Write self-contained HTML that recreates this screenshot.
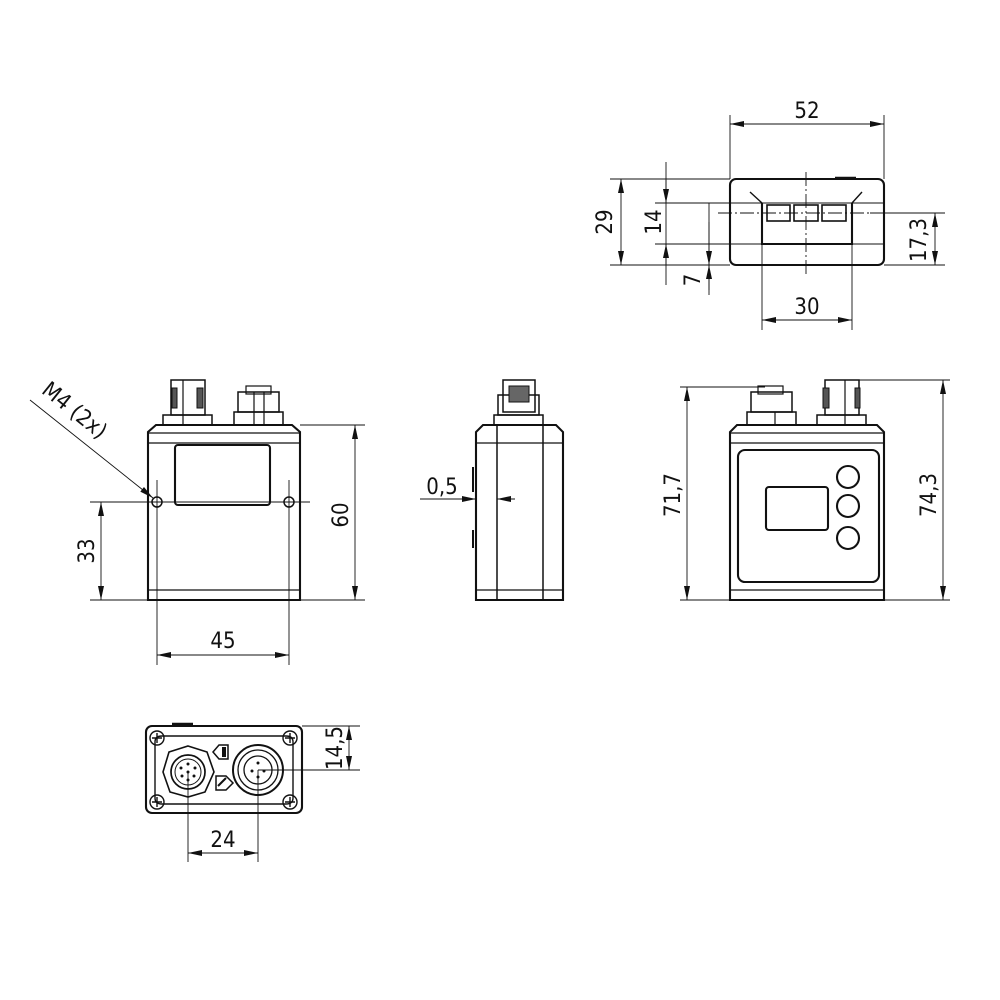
<!DOCTYPE html>
<html><head><meta charset="utf-8"><style>
html,body{margin:0;padding:0;background:#fff;}
svg{display:block}
text{font-family:"DejaVu Sans Condensed","DejaVu Sans","Liberation Sans",sans-serif;font-size:22px;fill:#111;font-weight:300}
</style></head><body>
<svg width="1000" height="1000" viewBox="0 0 1000 1000" xmlns="http://www.w3.org/2000/svg">
<defs>
<marker id="a" viewBox="0 0 14 6" refX="14" refY="3" markerWidth="14" markerHeight="6" markerUnits="userSpaceOnUse" orient="auto-start-reverse"><path d="M0,0 L14,3 L0,6 z" fill="#111"/></marker>
</defs>
<g stroke="#111" fill="none">
<!-- ===== TOP VIEW ===== -->
<g stroke-width="0.9">
<line x1="730" y1="115" x2="730" y2="179"/><line x1="884" y1="115" x2="884" y2="179"/>
<line x1="730" y1="124" x2="884" y2="124" marker-start="url(#a)" marker-end="url(#a)"/>
<line x1="610" y1="179" x2="730" y2="179"/><line x1="610" y1="265" x2="730" y2="265"/>
<line x1="621" y1="179" x2="621" y2="265" marker-start="url(#a)" marker-end="url(#a)"/>
<line x1="655" y1="203" x2="762" y2="203"/><line x1="655" y1="244" x2="762" y2="244"/>
<line x1="666" y1="162" x2="666" y2="285"/>
<line x1="666" y1="180" x2="666" y2="203" marker-end="url(#a)"/>
<line x1="666" y1="265" x2="666" y2="244" marker-end="url(#a)"/>
<line x1="709" y1="203" x2="709" y2="295"/>
<line x1="709" y1="222" x2="709" y2="265" marker-end="url(#a)"/>
<line x1="709" y1="290" x2="709" y2="265" marker-end="url(#a)"/>
<line x1="870" y1="213" x2="945" y2="213"/><line x1="884" y1="265" x2="945" y2="265"/>
<line x1="935" y1="213" x2="935" y2="265" marker-start="url(#a)" marker-end="url(#a)"/>
<line x1="762" y1="244" x2="762" y2="330"/><line x1="852" y1="244" x2="852" y2="330"/>
<line x1="762" y1="320" x2="852" y2="320" marker-start="url(#a)" marker-end="url(#a)"/>
<line x1="806" y1="172" x2="806" y2="276" stroke-dasharray="14,3,2,3"/>
<line x1="718" y1="213" x2="880" y2="213" stroke-dasharray="14,3,2,3"/>
</g>
<g stroke-width="2.1">
<rect x="730" y="179" width="154" height="86" rx="6"/>
<line x1="730" y1="203" x2="884" y2="203" stroke-width="1"/>
<line x1="730" y1="244" x2="884" y2="244" stroke-width="1"/>
<path d="M762,203 V244 H852 V203" />
<line x1="750" y1="192" x2="762" y2="203" stroke-width="1.4"/>
<line x1="862" y1="192" x2="852" y2="203" stroke-width="1.4"/>
<rect x="767" y="205" width="23" height="16" stroke-width="1.6"/>
<rect x="794" y="205" width="24" height="16" stroke-width="1.6"/>
<rect x="822" y="205" width="24" height="16" stroke-width="1.6"/>
<line x1="835" y1="178" x2="856" y2="178" stroke-width="2.5"/>
</g>
<!-- ===== FRONT VIEW ===== -->
<g stroke-width="0.9">
<line x1="300" y1="425" x2="365" y2="425"/><line x1="300" y1="600" x2="365" y2="600"/>
<line x1="355" y1="425" x2="355" y2="600" marker-start="url(#a)" marker-end="url(#a)"/>
<line x1="90" y1="600" x2="148" y2="600"/>
<line x1="101" y1="502" x2="101" y2="600" marker-start="url(#a)" marker-end="url(#a)"/>
<line x1="90" y1="502" x2="310" y2="502"/>
<line x1="157" y1="480" x2="157" y2="665"/><line x1="289" y1="480" x2="289" y2="665"/>
<line x1="157" y1="655" x2="289" y2="655" marker-start="url(#a)" marker-end="url(#a)"/>
<line x1="30" y1="400" x2="153" y2="498" marker-end="url(#a)"/>
</g>
<g stroke-width="2.1">
<path d="M148,600 V432 L156,425 H292 L300,432 V600 Z"/>
<line x1="148" y1="433" x2="300" y2="433" stroke-width="1.3"/>
<line x1="148" y1="443" x2="300" y2="443" stroke-width="1.3"/>
<line x1="148" y1="590" x2="300" y2="590" stroke-width="1.3"/>
<rect x="175" y="445" width="95" height="60" rx="3"/>
<circle cx="157" cy="502" r="5" stroke-width="1.5"/>
<circle cx="289" cy="502" r="5" stroke-width="1.5"/>
<rect x="163" y="415" width="49" height="10" stroke-width="1.5"/>
<rect x="171" y="380" width="34" height="35" stroke-width="1.5"/>
<line x1="183" y1="380" x2="183" y2="425" stroke-width="1.2"/>
<rect x="172" y="388" width="5" height="20" stroke-width="1" fill="#555"/>
<rect x="197" y="388" width="6" height="20" stroke-width="1" fill="#555"/>
<rect x="234" y="412" width="49" height="13" stroke-width="1.5"/>
<rect x="238" y="392" width="41" height="20" stroke-width="1.5"/>
<rect x="246" y="386" width="25" height="8" stroke-width="1.2"/>
<line x1="254" y1="392" x2="254" y2="425" stroke-width="1.2"/>
<line x1="264" y1="392" x2="264" y2="425" stroke-width="1.2"/>
</g>
<!-- ===== SIDE VIEW ===== -->
<g stroke-width="0.9">
<line x1="420" y1="499" x2="476" y2="499" marker-end="url(#a)"/>
<line x1="515" y1="499" x2="497" y2="499" marker-end="url(#a)"/>
</g>
<g stroke-width="2.1">
<path d="M476,600 V432 L483,425 H556 L563,432 V600 Z"/>
<line x1="476" y1="443" x2="563" y2="443" stroke-width="1.3"/>
<line x1="476" y1="590" x2="563" y2="590" stroke-width="1.3"/>
<line x1="497" y1="425" x2="497" y2="600" stroke-width="1.5"/>
<line x1="543" y1="425" x2="543" y2="600" stroke-width="1.5"/>
<line x1="473" y1="467" x2="473" y2="492" stroke-width="2"/>
<line x1="473" y1="530" x2="473" y2="548" stroke-width="2"/>
<rect x="494" y="415" width="49" height="10" stroke-width="1.5"/>
<rect x="498" y="395" width="41" height="20" stroke-width="1.5"/>
<rect x="503" y="380" width="32" height="32" stroke-width="1.5"/>
<rect x="509" y="386" width="20" height="16" stroke-width="1" fill="#666"/>
</g>
<!-- ===== RIGHT VIEW ===== -->
<g stroke-width="0.9">
<line x1="680" y1="387" x2="765" y2="387"/><line x1="855" y1="380" x2="950" y2="380"/>
<line x1="680" y1="600" x2="730" y2="600"/><line x1="884" y1="600" x2="950" y2="600"/>
<line x1="687" y1="387" x2="687" y2="600" marker-start="url(#a)" marker-end="url(#a)"/>
<line x1="943" y1="380" x2="943" y2="600" marker-start="url(#a)" marker-end="url(#a)"/>
</g>
<g stroke-width="2.1">
<path d="M730,600 V432 L737,425 H877 L884,432 V600 Z"/>
<line x1="730" y1="433" x2="884" y2="433" stroke-width="1.3"/>
<line x1="730" y1="443" x2="884" y2="443" stroke-width="1.3"/>
<line x1="730" y1="590" x2="884" y2="590" stroke-width="1.3"/>
<rect x="738" y="450" width="141" height="132" rx="7"/>
<rect x="766" y="487" width="62" height="43" rx="3"/>
<circle cx="848" cy="477" r="11"/>
<circle cx="848" cy="506" r="11"/>
<circle cx="848" cy="538" r="11"/>
<rect x="747" y="412" width="49" height="13" stroke-width="1.5"/>
<rect x="751" y="392" width="41" height="20" stroke-width="1.5"/>
<rect x="758" y="386" width="25" height="8" stroke-width="1.2"/>
<line x1="775" y1="412" x2="775" y2="425" stroke-width="1.2"/>
<rect x="817" y="415" width="49" height="10" stroke-width="1.5"/>
<rect x="825" y="380" width="34" height="35" stroke-width="1.5"/>
<line x1="845" y1="380" x2="845" y2="425" stroke-width="1.2"/>
<rect x="823" y="388" width="6" height="20" stroke-width="1" fill="#555"/>
<rect x="855" y="388" width="5" height="20" stroke-width="1" fill="#555"/>
</g>
<!-- ===== BOTTOM VIEW ===== -->
<g stroke-width="0.9">
<line x1="302" y1="726" x2="360" y2="726"/><line x1="258" y1="770" x2="360" y2="770"/>
<line x1="349" y1="726" x2="349" y2="770" marker-start="url(#a)" marker-end="url(#a)"/>
<line x1="188" y1="772" x2="188" y2="862"/><line x1="258" y1="770" x2="258" y2="862"/>
<line x1="188" y1="853" x2="258" y2="853" marker-start="url(#a)" marker-end="url(#a)"/>
</g>
<g stroke-width="2.1">
<rect x="146" y="726" width="156" height="87" rx="6"/>
<path d="M155,742 V798 Q155,804 162,804 H286 Q293,804 293,798 V742 Q293,736 286,736 H162 Q155,736 155,742" stroke-width="1.4"/>
<line x1="172" y1="724" x2="193" y2="724" stroke-width="2.5"/>
<g stroke-width="1.4">
<circle cx="157" cy="738" r="7"/><path d="M152,738 H162 M157,733 V743"/>
<circle cx="290" cy="738" r="7"/><path d="M285,738 H295 M290,733 V743"/>
<circle cx="157" cy="802" r="7"/><path d="M152,802 H162 M157,797 V807"/>
<circle cx="290" cy="802" r="7"/><path d="M285,802 H295 M290,797 V807"/>
</g>
<polygon points="188,746 207,752 214,772 205,792 188,797 170,792 163,772 169,752" stroke-width="1.6"/>
<circle cx="188" cy="772" r="17" stroke-width="1.7"/>
<circle cx="188" cy="772" r="13" stroke-width="1"/>
<g fill="#111" stroke="none">
<circle cx="188" cy="764" r="1.5"/><circle cx="181" cy="768" r="1.5"/><circle cx="195" cy="768" r="1.5"/>
<circle cx="182" cy="776" r="1.5"/><circle cx="194" cy="776" r="1.5"/><circle cx="188" cy="780" r="1.5"/><circle cx="188" cy="772" r="1.5"/>
</g>
<circle cx="258" cy="770" r="25" stroke-width="2"/>
<circle cx="258" cy="770" r="20" stroke-width="1.3"/>
<circle cx="258" cy="770" r="14" stroke-width="1.3"/>
<g fill="#111" stroke="none"><circle cx="258" cy="763" r="1.5"/><circle cx="252" cy="771" r="1.5"/><circle cx="264" cy="771" r="1.5"/><circle cx="258" cy="777" r="1.5"/></g>
<path d="M213,752 L219,745 H228 V759 H219 Z" stroke-width="1.5"/>
<rect x="222" y="747" width="4" height="10" fill="#111" stroke="none"/>
<path d="M216,776 H226 L233,783 L226,790 H216 Z" stroke-width="1.5"/>
<path d="M218,786 L226,778" stroke-width="2"/>
</g>
</g>
<!-- ===== TEXT ===== -->
<text x="807" y="118" text-anchor="middle">52</text>
<text x="807" y="314" text-anchor="middle">30</text>
<text transform="translate(612,222) rotate(-90)" text-anchor="middle">29</text>
<text transform="translate(661,222) rotate(-90)" text-anchor="middle">14</text>
<text transform="translate(700,280) rotate(-90)" text-anchor="middle">7</text>
<text transform="translate(926,240) rotate(-90)" text-anchor="middle">17,3</text>
<text transform="translate(348,515) rotate(-90)" text-anchor="middle">60</text>
<text transform="translate(94,551) rotate(-90)" text-anchor="middle">33</text>
<text x="223" y="648" text-anchor="middle">45</text>
<text transform="translate(70,416) rotate(38.8)" text-anchor="middle">M4 (2x)</text>
<text x="442" y="494" text-anchor="middle">0,5</text>
<text transform="translate(680,495) rotate(-90)" text-anchor="middle">71,7</text>
<text transform="translate(936,495) rotate(-90)" text-anchor="middle">74,3</text>
<text transform="translate(342,748) rotate(-90)" text-anchor="middle">14,5</text>
<text x="223" y="847" text-anchor="middle">24</text>
</svg>
</body></html>
